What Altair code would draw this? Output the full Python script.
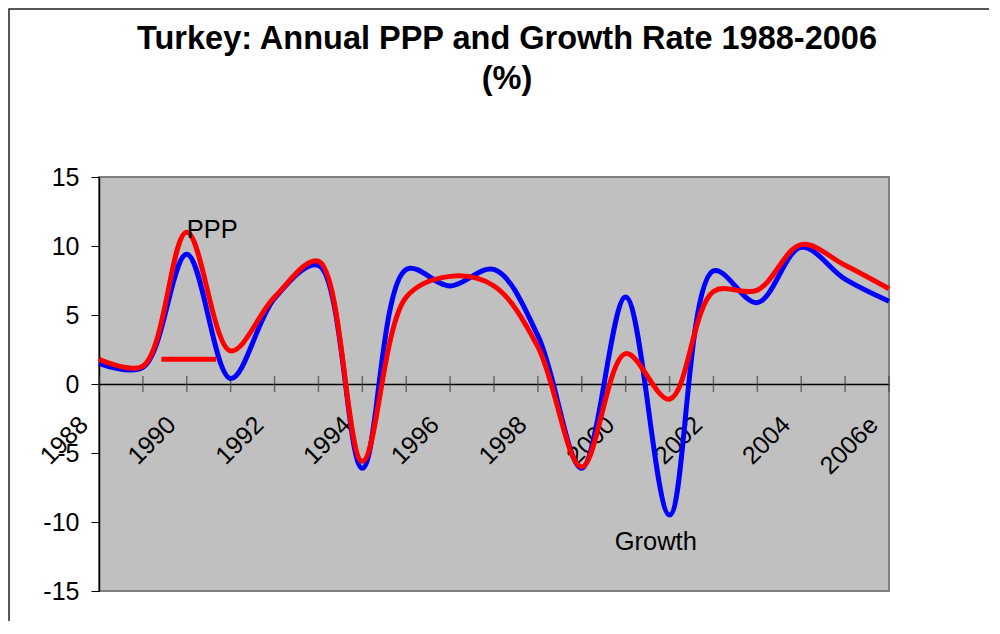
import altair as alt
import pandas as pd

years = ["1988", "1989", "1990", "1991", "1992", "1993", "1994", "1995", "1996", "1997",
         "1998", "1999", "2000", "2001", "2002", "2003", "2004", "2005", "2006e"]
growth = [1.5, 1.2, 9.4, 0.4, 6.2, 8.6, -6.1, 8.3, 7.1, 8.3, 3.5, -6.1, 6.3, -9.5, 8.2, 5.9, 9.9, 7.6, 6.0]
ppp = [1.8, 1.3, 11.0, 2.4, 6.3, 8.9, -5.6, 6.3, 7.8, 7.1, 2.7, -6.0, 2.2, -1.1, 6.7, 6.8, 10.1, 8.6, 6.9]

# stray red key segment (category-index positions) and series labels
key_x0 = [1.42]
key_x1 = [2.67]
key_y = [1.8]
label_x = [2.0, 11.75]
label_y = [10.6, -12.0]
label_text = ["PPP", "Growth"]

df = pd.DataFrame({"idx": list(range(len(years))), "year": years, "Growth": growth, "PPP": ppp})
key_df = pd.DataFrame({"x0": key_x0, "x1": key_x1, "y": key_y})
lab_df = pd.DataFrame({"x": label_x, "y": label_y, "text": label_text})

FONT = "Liberation Sans"
arr = "[" + ",".join("'" + y + "'" for y in years) + "]"
x_label_expr = "datum.value % 2 == 0 ? " + arr + "[datum.value] : ''"

xscale = alt.Scale(domain=[0, len(years) - 1], nice=False, zero=False)
yscale = alt.Scale(domain=[-15, 15], nice=False, zero=False)

xaxis = alt.Axis(
    title=None, values=list(range(len(years))), labelExpr=x_label_expr,
    orient="bottom", offset=-207, grid=False, ticks=False, tickSize=0,
    domainColor="#000000", domainWidth=1.5,
    labelAngle=315, labelAlign="right", labelBaseline="alphabetic",
    labelOffset=-10, labelPadding=42, labelFont=FONT, labelFontSize=25,
    labelColor="#000000", labelOverlap=False, labelFlush=False, labelBound=False,
)
yaxis = alt.Axis(
    title=None, values=[-15, -10, -5, 0, 5, 10, 15], labelExpr="'' + datum.value",
    grid=False, tickSize=8, tickColor="#000000", domainColor="#000000", domainWidth=1.5,
    labelPadding=12, labelFont=FONT, labelFontSize=25, labelColor="#000000",
)

base = alt.Chart(df)

frame = alt.Chart(pd.DataFrame({"a": [0]})).mark_rect(
    fillOpacity=0, stroke="#222222", strokeWidth=1.5
).encode(x=alt.value(-90), x2=alt.value(930), y=alt.value(-168), y2=alt.value(480))

ticks = base.mark_tick(orient="vertical", size=16, thickness=1.5, color="#444444").encode(
    x=alt.X("idx:Q", scale=xscale, axis=xaxis),
    y=alt.datum(0, scale=yscale),
)

blue = base.mark_line(color="#0000FF", strokeWidth=5, interpolate="catmull-rom").encode(
    x=alt.X("idx:Q", scale=xscale, axis=xaxis),
    y=alt.Y("Growth:Q", scale=yscale, axis=yaxis),
)
red = base.mark_line(color="#FF0000", strokeWidth=5, interpolate="catmull-rom").encode(
    x=alt.X("idx:Q", scale=xscale, axis=xaxis),
    y=alt.Y("PPP:Q", scale=yscale, axis=yaxis),
)
key = alt.Chart(key_df).mark_rule(color="#FF0000", strokeWidth=5).encode(
    x=alt.X("x0:Q", scale=xscale), x2="x1:Q", y=alt.Y("y:Q", scale=yscale)
)
labels = alt.Chart(lab_df).mark_text(
    align="left", baseline="alphabetic", font=FONT, fontSize=25.5, color="#000000"
).encode(x=alt.X("x:Q", scale=xscale), y=alt.Y("y:Q", scale=yscale), text="text:N")

chart = alt.layer(frame, ticks, blue, red, key, labels).properties(
    width=790, height=414,
    background="white",
    autosize=alt.AutoSizeParams(type="none"),
    padding={"left": 91, "top": 169, "right": 100, "bottom": 30},
    title=alt.TitleParams(
        text=["Turkey: Annual PPP and Growth Rate 1988-2006", "(%)"],
        font=FONT, fontSize=32.5, fontWeight="bold", color="#000000",
        anchor="middle", frame="group", dx=13, offset=-87, lineHeight=40,
    ),
).configure_view(fill="#C0C0C0", stroke="#808080", strokeWidth=2)

chart.save("out.html", embed_options={"renderer": "svg", "actions": False})
